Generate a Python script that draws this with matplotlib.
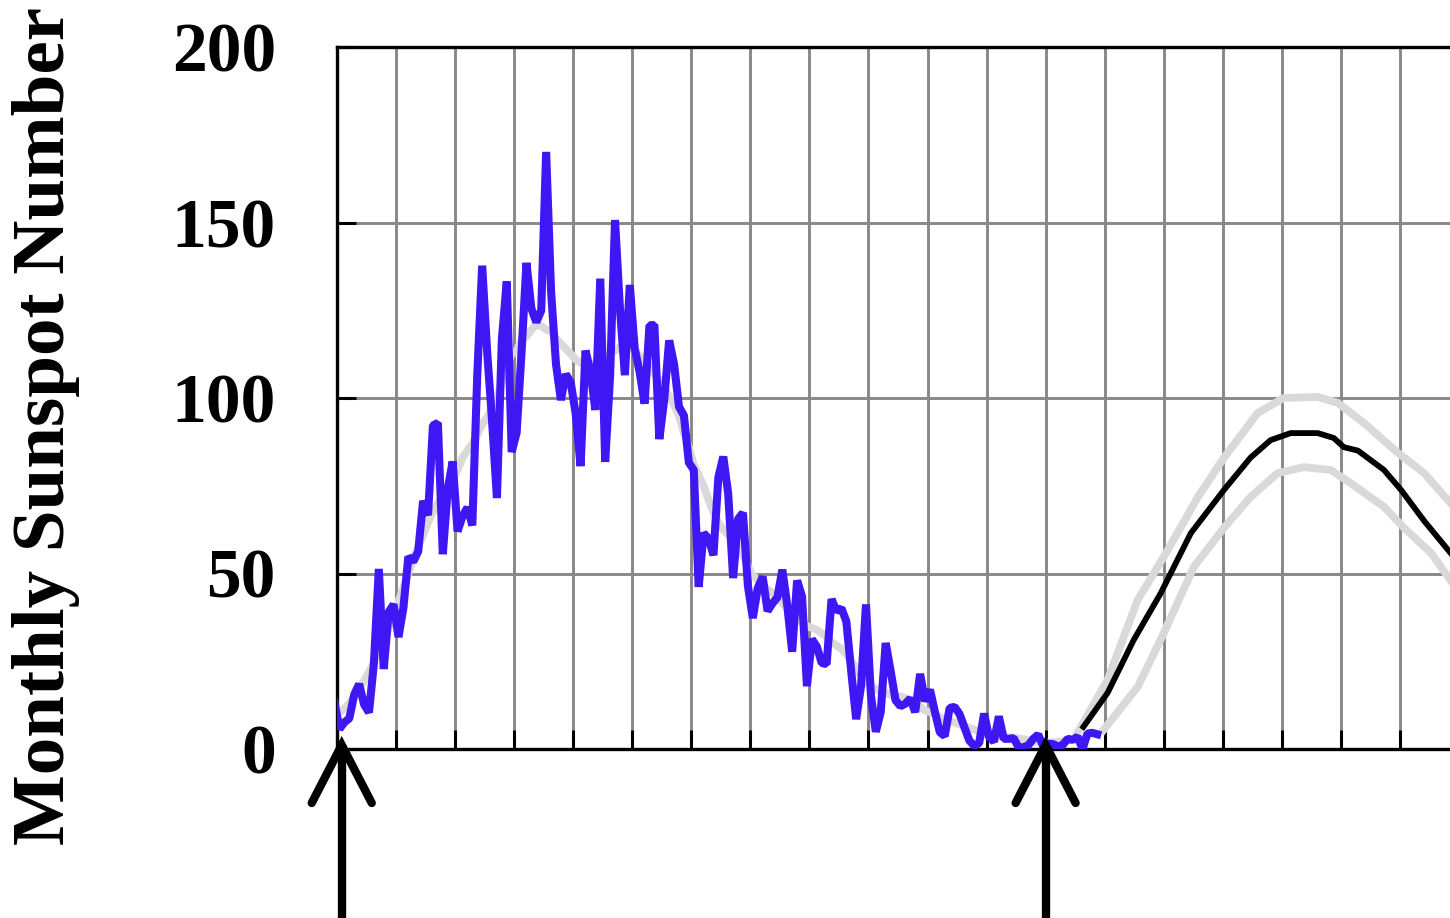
import numpy as np
import matplotlib
matplotlib.use("Agg")
import matplotlib.pyplot as plt
from matplotlib.transforms import blended_transform_factory

# ---------------------------------------------------------------
# data: monthly sunspot numbers (Dec 1996 .. Nov 2009)
# ---------------------------------------------------------------
ssn_1996 = [13.3]  # December only
ssn_1997 = [5.7, 7.6, 8.7, 15.5, 18.5, 12.7, 10.4, 24.4, 51.3, 22.8, 39.0, 41.2]
ssn_1998 = [31.9, 40.3, 54.8, 53.4, 56.3, 70.7, 66.6, 92.2, 92.9, 55.5, 74.0, 81.9]
ssn_1999 = [62.0, 66.3, 68.8, 63.7, 106.4, 137.7, 113.5, 93.7, 71.5, 116.7, 133.2, 84.6]
ssn_2000 = [90.1, 112.9, 138.5, 125.5, 121.6, 124.9, 170.1, 130.5, 109.7, 99.4, 106.8, 104.4]
ssn_2001 = [95.6, 80.6, 113.5, 107.7, 96.6, 134.0, 81.8, 106.4, 150.7, 125.5, 106.5, 132.2]
ssn_2002 = [114.1, 107.4, 98.4, 120.7, 120.8, 88.3, 99.6, 116.4, 109.6, 97.5, 95.0, 81.6]
ssn_2003 = [79.5, 46.2, 61.5, 60.0, 55.2, 77.4, 83.3, 72.7, 48.7, 65.5, 67.3, 46.5]
ssn_2004 = [37.3, 45.8, 49.1, 39.3, 41.5, 43.2, 51.1, 40.9, 27.7, 48.0, 43.5, 17.9]
ssn_2005 = [31.3, 29.2, 24.5, 24.2, 42.7, 39.3, 40.1, 36.4, 22.1, 8.5, 18.0, 41.2]
ssn_2006 = [15.3, 4.9, 10.6, 30.2, 22.3, 13.9, 12.2, 12.9, 14.4, 10.5, 21.4, 13.6]
ssn_2007 = [16.9, 10.6, 4.8, 3.7, 11.7, 12.0, 10.0, 6.2, 2.4, 0.9, 1.7, 10.1]
ssn_2008 = [3.4, 2.1, 9.3, 2.9, 2.9, 3.1, 0.5, 0.5, 1.1, 2.9, 4.1, 0.8]
ssn_2009 = [1.5, 1.4, 0.7, 1.2, 2.9, 2.6, 3.5, 0.0, 4.4, 4.6, 4.2]

# 13-month smoothed values (Dec 1996 .. Jun 2009)
smooth_1996 = [10.0]
smooth_1997 = [10.5, 11.5, 13, 15, 17, 19.5, 22, 24.5, 27.5, 31, 34.5, 38]
smooth_1998 = [42, 46, 50, 54, 57.5, 61, 64.5, 67.5, 70, 72, 74, 76.5]
smooth_1999 = [79.5, 83, 85, 87, 89.5, 92.5, 94.5, 97, 100, 104.5, 109.5, 112.5]
smooth_2000 = [113.5, 116.6, 117.5, 119.5, 120.8, 120.5, 119.5, 119, 117, 115.5, 114, 112.5]
smooth_2001 = [111, 110, 109.5, 109.5, 110, 110.5, 111.5, 112.5, 113.5, 114.5, 115, 114.5]
smooth_2002 = [113.5, 112, 110.5, 109, 107, 105, 103, 100.5, 98, 95, 90, 86]
smooth_2003 = [81, 78, 75, 71, 67.5, 64.5, 62.5, 61, 59.5, 57.5, 55, 52]
smooth_2004 = [49.5, 48, 46.5, 45.5, 44.5, 43, 41.5, 40.5, 39, 37.5, 36, 35]
smooth_2005 = [34.5, 34, 33, 32, 30.5, 29.5, 28.5, 27, 25, 23, 21, 19]
smooth_2006 = [18, 17, 16.5, 16, 15.5, 15, 15, 14.5, 14, 13, 12, 11]
smooth_2007 = [10.5, 10, 9, 8.5, 8, 7.5, 7, 6.5, 6, 5.5, 5, 4.5]
smooth_2008 = [4, 3.8, 3.6, 3.5, 3.3, 3.2, 3, 2.8, 2.5, 2.2, 2, 1.8]
smooth_2009 = [1.8, 1.9, 2, 2.2, 2.5, 2.8]

# predicted cycle 24 (black) and its upper / lower limits (light gray)
pred_years = [2009.64, 2010.05, 2010.49, 2010.95, 2011.46, 2012.02, 2012.47, 2012.81,
              2013.15, 2013.61, 2013.88, 2014.05, 2014.29, 2014.73, 2015.02, 2015.41, 2015.86]
pred_mid = [6.3, 16, 31, 44.4, 61.5, 73.8, 83, 88, 90, 90, 88.6, 86, 85, 79.5, 73.8, 65, 55.8]

upper_years = [2009.54, 2010.05, 2010.56, 2011.0, 2011.58, 2012.02, 2012.59, 2013.03,
               2013.61, 2013.95, 2014.39, 2014.97, 2015.41, 2015.86]
pred_upper = [4.6, 19.7, 42.5, 54.7, 71.8, 83, 95.7, 100, 100.3, 98.6, 92.9, 84.3, 78.6, 70]

lower_years = [2009.98, 2010.56, 2011.0, 2011.51, 2012.02, 2012.47, 2012.93, 2013.37,
               2013.83, 2014.17, 2014.73, 2015.07, 2015.53, 2015.86]
pred_lower = [5.4, 17.7, 33, 51.9, 63, 71.8, 78.6, 80.3, 79.5, 75.7, 69, 63, 55.8, 48]

# cycle minima marked with arrows
minimum_years = [1997.08, 2009.0]

y_ticks = [0, 50, 100, 150, 200]

monthly = (ssn_1996 + ssn_1997 + ssn_1998 + ssn_1999 + ssn_2000 + ssn_2001 + ssn_2002
           + ssn_2003 + ssn_2004 + ssn_2005 + ssn_2006 + ssn_2007 + ssn_2008 + ssn_2009)
smoothed = (smooth_1996 + smooth_1997 + smooth_1998 + smooth_1999 + smooth_2000
            + smooth_2001 + smooth_2002 + smooth_2003 + smooth_2004 + smooth_2005
            + smooth_2006 + smooth_2007 + smooth_2008 + smooth_2009)
t_monthly = 1996 + 11.5 / 12 + np.arange(len(monthly)) / 12
t_smooth = 1996 + 11.5 / 12 + np.arange(len(smoothed)) / 12

# ---------------------------------------------------------------
# figure
# ---------------------------------------------------------------
plt.rcParams["font.family"] = ["Liberation Serif", "DejaVu Serif"]
plt.rcParams["font.weight"] = "bold"

W, H = 1450, 918
fig = plt.figure(figsize=(W / 100, H / 100), dpi=100)
ax = fig.add_axes([337 / W, (H - 749) / H, (W - 337) / W, 702 / H])

LIGHT = "#d9d9d9"
ax.plot(upper_years, pred_upper, color=LIGHT, lw=5.6, zorder=3)
ax.plot(lower_years, pred_lower, color=LIGHT, lw=5.6, zorder=3)
ax.plot(pred_years, pred_mid, color="black", lw=4.2, zorder=4)
ax.plot(t_smooth, smoothed, color=LIGHT, lw=5.6, zorder=5)
ax.plot(t_monthly, monthly, color="#3f16f4", lw=5.8, zorder=6,
        solid_joinstyle="bevel")

ax.set_xlim(1997, 1997 + (W - 337) / 59.05)
ax.set_ylim(0, 200)
ax.set_xticks(np.arange(1997, 2016))
ax.set_yticks(y_ticks)
ax.set_yticklabels([str(v) for v in y_ticks])
ax.grid(True, color="#888888", lw=2.1, zorder=1)
ax.set_axisbelow(True)

ax.tick_params(axis="both", direction="in", length=14, width=2.2, color="black",
               labelsize=50, pad=44)
ax.tick_params(axis="x", labelbottom=False)
for lab in ax.get_yticklabels():
    lab.set_fontweight("bold")

for side in ("left", "bottom", "top"):
    ax.spines[side].set_linewidth(2.4)
    ax.spines[side].set_color("black")
ax.spines["right"].set_visible(False)

# arrows marking the minima (below the axis)
tr = blended_transform_factory(ax.transData, ax.transAxes)
ax_h = 702.0
tip = 4 / ax_h
wing_y = -54 / ax_h
wing_dx = 30 / 59.05
for yr in minimum_years:
    ax.plot([yr, yr], [-0.26, tip], color="black", lw=6, transform=tr,
            clip_on=False, solid_capstyle="butt", zorder=10)
    ax.plot([yr - wing_dx, yr, yr + wing_dx], [wing_y, tip, wing_y], color="black",
            lw=6, transform=tr, clip_on=False, solid_capstyle="round",
            solid_joinstyle="miter", zorder=10)

fig.text(46 / W, 1 - 426 / H, "Monthly Sunspot Number", rotation=90,
         ha="center", va="center", fontsize=54, fontweight="bold")

fig.savefig("out.png", dpi=100)
